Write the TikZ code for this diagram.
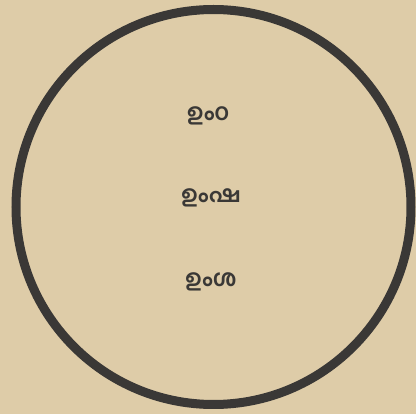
\documentclass[tikz,border=0pt]{standalone}
\usepackage{fontspec}
\newfontfamily\malfont[Script=Malayalam]{Hind Kochi}
\definecolor{paper}{RGB}{222,204,168}
\definecolor{ink}{RGB}{58,56,54}

\begin{document}
\begin{tikzpicture}[x=1pt, y=-1pt]
\tikzstyle{syllable} = [font=\malfont\bfseries\fontsize{23}{26}\selectfont, text=ink]

\fill[paper] (0,0) rectangle (416,414);
\useasboundingbox (0,0) rectangle (416,414);

\node[draw=ink, line width=9pt, circle, minimum size=395pt, inner sep=0pt] (ring) at (213.5,207) {};

\node[syllable] (top) at (208,116) {ഉംഠ};
\node[syllable] (mid) at (211,198) {ഉംഷ};
\node[syllable] (bot) at (211,282) {ഉംശ};
\end{tikzpicture}
\end{document}
